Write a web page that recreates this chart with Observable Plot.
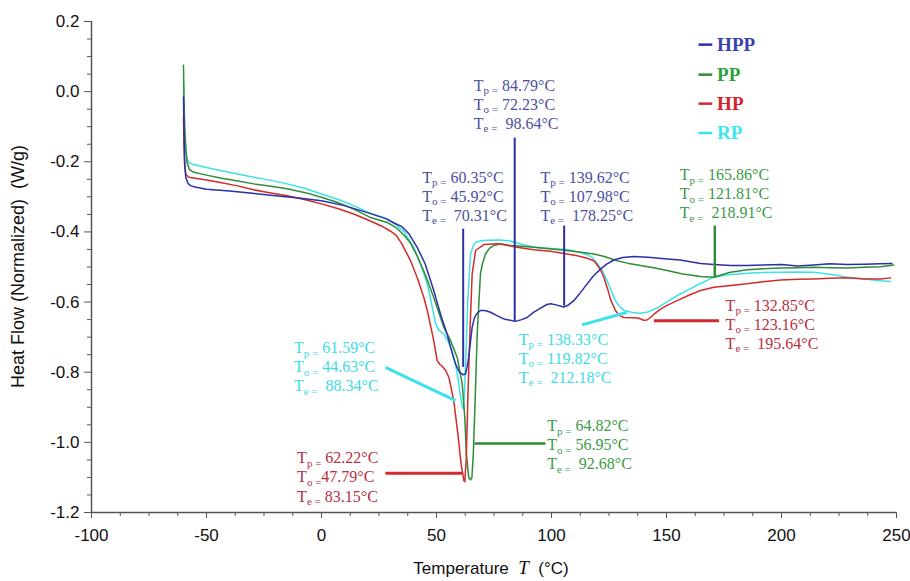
<!DOCTYPE html>
<html><head><meta charset="utf-8">
<script src="https://cdn.jsdelivr.net/npm/d3@7"></script>
<script src="https://cdn.jsdelivr.net/npm/@observablehq/plot@0.6"></script>
<style>
body{margin:0;background:#fff}
#chart svg text{white-space:pre}
</style></head><body><div id="chart"></div>
<script>
// ---- data: [temperature °C, heat flow W/g] ----
const seriesNames = ["HPP", "PP", "HP", "RP"];
const HPP = [[-60,-0.015],[-59.8,-0.10],[-59.5,-0.20],[-59,-0.245],[-58,-0.262],[-57,-0.268],[-55,-0.272],[-50,-0.278],[-40,-0.283],[-30,-0.290],[-20,-0.297],[-10,-0.303],[0,-0.311],[10,-0.325],[20,-0.345],[28,-0.362],[32,-0.376],[35,-0.385],[38,-0.405],[41.6,-0.444],[45,-0.49],[48.8,-0.567],[52,-0.64],[54.6,-0.691],[57,-0.75],[58.3,-0.777],[60,-0.80],[61.5,-0.807],[62.6,-0.805],[63.3,-0.785],[64,-0.758],[65,-0.70],[65.5,-0.672],[66.5,-0.645],[67.4,-0.634],[69.1,-0.624],[71,-0.624],[73.5,-0.629],[76,-0.638],[79.3,-0.648],[84.3,-0.655],[87,-0.65],[89.4,-0.644],[92,-0.63],[95.2,-0.617],[98,-0.607],[99.6,-0.605],[102,-0.608],[105.3,-0.614],[107,-0.610],[109.7,-0.596],[112,-0.578],[115.5,-0.548],[118,-0.527],[121.3,-0.506],[124,-0.492],[127.1,-0.480],[131,-0.473],[135.8,-0.470],[142,-0.472],[150.3,-0.477],[156,-0.480],[164.8,-0.490],[170.6,-0.493],[178,-0.496],[185,-0.496],[192,-0.494],[200,-0.493],[207,-0.497],[214,-0.494],[221,-0.491],[228.6,-0.493],[236,-0.492],[243,-0.491],[248,-0.490]];
const PP = [[-60,0.075],[-59.8,-0.02],[-59.5,-0.10],[-59,-0.16],[-58.5,-0.20],[-57.5,-0.222],[-55.5,-0.230],[-50,-0.238],[-44,-0.246],[-37,-0.254],[-29.4,-0.263],[-22,-0.270],[-14.9,-0.277],[-7,-0.288],[0,-0.301],[7,-0.316],[14,-0.335],[21,-0.358],[28.6,-0.373],[32.9,-0.390],[36,-0.41],[38.5,-0.43],[41.6,-0.468],[45,-0.52],[48.8,-0.587],[51,-0.63],[53.2,-0.672],[56.1,-0.710],[59,-0.758],[61.2,-0.834],[62.3,-0.929],[63,-1.033],[64,-1.100],[64.8,-1.107],[65.4,-1.100],[66,-1.033],[66.8,-0.881],[67.7,-0.691],[69.1,-0.520],[70,-0.49],[71.3,-0.463],[73,-0.447],[74.9,-0.439],[78,-0.434],[82.2,-0.439],[87,-0.441],[92.3,-0.444],[100,-0.449],[106.8,-0.453],[112,-0.457],[118.4,-0.463],[123,-0.47],[128.6,-0.482],[133,-0.489],[138.7,-0.496],[145,-0.503],[150.3,-0.510],[157,-0.52],[164.8,-0.527],[170.6,-0.529],[174,-0.522],[177.8,-0.515],[185.1,-0.508],[192,-0.505],[199.6,-0.503],[207,-0.502],[214,-0.501],[221,-0.502],[228.6,-0.503],[236,-0.501],[243,-0.499],[248.8,-0.494]];
const HP = [[-60,-0.07],[-59.8,-0.15],[-59.5,-0.21],[-59,-0.235],[-58,-0.243],[-57,-0.245],[-50,-0.252],[-44,-0.259],[-37,-0.268],[-29.4,-0.280],[-22,-0.289],[-14.9,-0.297],[-7,-0.308],[0,-0.320],[7,-0.333],[14,-0.349],[21,-0.368],[26,-0.383],[30,-0.398],[32.5,-0.41],[35,-0.435],[38.7,-0.482],[41.6,-0.530],[44.5,-0.587],[46,-0.624],[48.8,-0.710],[50.3,-0.767],[51.5,-0.778],[52.5,-0.783],[54,-0.795],[55.4,-0.815],[57.5,-0.881],[59.3,-0.976],[60.7,-1.062],[61.9,-1.109],[62.3,-1.112],[62.9,-1.052],[63.6,-0.881],[64.5,-0.691],[65.5,-0.520],[67,-0.453],[70.6,-0.436],[76.4,-0.434],[80,-0.437],[85,-0.444],[92.3,-0.451],[99.6,-0.455],[106.8,-0.463],[111.2,-0.468],[115.5,-0.475],[118.4,-0.482],[120,-0.495],[121.5,-0.51],[122.8,-0.53],[124.5,-0.565],[125.7,-0.593],[127.8,-0.624],[129.5,-0.638],[131.4,-0.644],[135.8,-0.645],[138,-0.646],[140.1,-0.652],[141.5,-0.651],[143,-0.644],[145,-0.632],[147.4,-0.620],[150,-0.610],[154.6,-0.596],[160,-0.58],[164.8,-0.567],[170.6,-0.558],[178,-0.553],[185.1,-0.548],[192,-0.542],[199.6,-0.537],[207,-0.535],[214,-0.534],[221,-0.532],[228.6,-0.531],[236,-0.534],[243,-0.534],[247.4,-0.531]];
const RP = [[-60,0.03],[-59.8,-0.03],[-59.5,-0.11],[-59,-0.17],[-58.3,-0.195],[-57.5,-0.203],[-55.5,-0.208],[-50,-0.216],[-44,-0.225],[-37,-0.234],[-29.4,-0.244],[-22,-0.253],[-14.9,-0.263],[-7,-0.276],[0,-0.292],[7,-0.307],[14,-0.325],[21.3,-0.347],[28.6,-0.363],[32.9,-0.382],[36,-0.40],[40.1,-0.444],[43,-0.491],[46,-0.548],[47.4,-0.59],[49.6,-0.662],[51,-0.68],[53.2,-0.691],[55,-0.712],[56.8,-0.739],[58,-0.77],[59.3,-0.815],[60.5,-0.87],[61.3,-0.90],[61.8,-0.905],[62.3,-0.84],[62.6,-0.786],[63.6,-0.596],[64.8,-0.463],[66,-0.44],[67,-0.430],[69.1,-0.425],[72,-0.424],[77.8,-0.423],[82.2,-0.426],[87,-0.435],[92.3,-0.443],[100,-0.447],[106.8,-0.450],[112,-0.458],[115.5,-0.465],[118,-0.475],[120,-0.491],[122,-0.51],[124.2,-0.539],[126,-0.568],[127.8,-0.596],[129.5,-0.612],[131.4,-0.623],[135,-0.630],[138.7,-0.632],[142,-0.628],[145.9,-0.617],[150,-0.60],[154.6,-0.582],[160,-0.563],[164.8,-0.547],[170.6,-0.529],[177,-0.522],[185.1,-0.518],[192,-0.516],[199.6,-0.515],[207,-0.514],[214,-0.515],[221,-0.521],[228.6,-0.529],[236,-0.534],[243,-0.539],[247.4,-0.541]];

const xTicks = [-100, -50, 0, 50, 100, 150, 200, 250];
const yTicks = [0.2, 0.0, -0.2, -0.4, -0.6, -0.8, -1.0, -1.2];

// annotation labels: [series, T, heat flow, lines]   ("|" marks the subscript part)
const annotations = [
  ["HPP", 66.2, -0.034, ["T|p =| 84.79°C", "T|o =| 72.23°C", "T|e =|  98.64°C"]],
  ["HPP", 43.8, -0.2965, ["T|p =| 60.35°C", "T|o =| 45.92°C", "T|e =|  70.31°C"]],
  ["HPP", 95.2, -0.2965, ["T|p =| 139.62°C", "T|o =| 107.98°C", "T|e =|  178.25°C"]],
  ["PP", 155.8, -0.290, ["T|p =| 165.86°C", "T|o =| 121.81°C", "T|e =|  218.91°C"]],
  ["RP", -12.0, -0.783, ["T|p =| 61.59°C", "T|o =| 44.63°C", "T|e =|  88.34°C"]],
  ["HP", -10.6, -1.097, ["T|p =| 62.22°C", "T|o =|47.79°C", "T|e =| 83.15°C"]],
  ["PP", 98.1, -1.005, ["T|p =| 64.82°C", "T|o =| 56.95°C", "T|e =|  92.68°C"]],
  ["RP", 85.8, -0.759, ["T|p =| 138.33°C", "T|o =| 119.82°C", "T|e =|  212.18°C"]],
  ["HP", 175.7, -0.662, ["T|p =| 132.85°C", "T|o =| 123.16°C", "T|e =|  195.64°C"]]
];
// pointer lines: [series, T1, HF1, T2, HF2]
const pointers = [
  ["HPP", 84.0, -0.131, 84.0, -0.655],
  ["HPP", 61.6, -0.391, 61.6, -0.785],
  ["HPP", 105.5, -0.382, 105.5, -0.610],
  ["PP", 171.0, -0.382, 171.0, -0.530],
  ["RP", 27.8, -0.786, 58.3, -0.881],
  ["HP", 27.8, -1.088, 61.2, -1.088],
  ["PP", 66.5, -1.003, 97.4, -1.003],
  ["RP", 113.3, -0.665, 132.9, -0.629],
  ["HP", 144.5, -0.653, 172.8, -0.653]
];

// ---- styles ----
const lineColor = {HPP: "#2c30a6", PP: "#2e8d36", HP: "#d22b2b", RP: "#3ce2ea"};
const textColor = {HPP: "#4a4fa3", PP: "#3a9a47", HP: "#b8303e", RP: "#3ddbe3"};
const legendColor = {HPP: "#3a3fb0", PP: "#2fa03c", HP: "#d8202a", RP: "#3ee6ee"};
const pointerWidth = {HPP: 2, PP: 2.5, HP: 3, RP: 3};

const seriesData = {HPP, PP, HP, RP};
const rows = [];
for (const name of ["RP", "PP", "HP", "HPP"]) for (const [t, v] of seriesData[name]) rows.push({name, t, v});

const xMinor = d3.range(-100, 250.001, 12.5).filter(d => !xTicks.includes(d));
const yMinor = d3.range(-1.2, 0.2001, 0.05).map(d => +d.toFixed(2)).filter(d => !yTicks.some(t => Math.abs(t - d) < 1e-6));

// legend layout (data-space anchors inside the frame)
const legendRows = seriesNames.map((name, i) => ({name, y: [0.134, 0.0485, -0.0342, -0.118][i]}));

const sans = "'Liberation Sans', Arial, sans-serif";
const serif = "'Liberation Serif', 'Times New Roman', serif";
const W = 910, H = 581, ML = 91, MR = 14, MT = 21, MB = 69;

const chart = Plot.plot({
  width: W, height: H,
  marginLeft: ML, marginRight: MR, marginTop: MT, marginBottom: MB,
  x: {domain: [-100, 250]},
  y: {domain: [-1.2, 0.2]},
  style: {fontFamily: sans, fontSize: "17px", color: "#111", background: "#fff"},
  marks: [
    Plot.axisX(xTicks, {tickSize: 6, tickPadding: 10, tickFormat: d => String(d), label: null, stroke: "#555", fontSize: 17}),
    Plot.axisX(xMinor, {tickSize: 4, tickFormat: () => "", label: null, stroke: "#555"}),
    Plot.axisY(yTicks, {tickSize: 7, tickPadding: 5, tickFormat: d => d.toFixed(1), label: null, stroke: "#555", fontSize: 17}),
    Plot.axisY(yMinor, {tickSize: 4, tickFormat: () => "", label: null, stroke: "#555"}),
    Plot.ruleX([-100], {stroke: "#555", strokeWidth: 1.5}),
    Plot.ruleY([-1.2], {stroke: "#555", strokeWidth: 1.5}),
    Plot.line(rows, {x: "t", y: "v", z: "name", stroke: d => lineColor[d.name], strokeWidth: 1.5, curve: "linear"}),
    Plot.link(pointers, {x1: d => d[1], y1: d => d[2], x2: d => d[3], y2: d => d[4], stroke: d => lineColor[d[0]], strokeWidth: d => pointerWidth[d[0]]}),
    Plot.text(annotations, {x: d => d[1], y: d => d[2], text: d => d[3].join("\n"), fill: d => textColor[d[0]], textAnchor: "start", lineAnchor: "middle", lineHeight: 1.19, fontSize: 16, fontFamily: serif}),
    Plot.link(legendRows, {x1: 163.9, x2: 169.9, y1: "y", y2: "y", stroke: d => lineColor[d.name], strokeWidth: 2.5}),
    Plot.text(legendRows, {x: 172.0, y: "y", text: "name", fill: d => legendColor[d.name], textAnchor: "start", fontSize: 19, fontWeight: "bold", fontFamily: serif}),
    Plot.text(["Heat Flow (Normalized)  (W/g)"], {frameAnchor: "middle", text: d => d, rotate: -90, fontSize: 18, fontFamily: sans, fill: "#111"}),
    Plot.text(["Temperature  #T#  (°C)"], {frameAnchor: "bottom", text: d => d, dy: 61, dx: -3, fontSize: 17, fontFamily: sans, fill: "#111"})
  ]
});

document.getElementById("chart").appendChild(chart);

// rich text: subscripts in annotations, italic T in x label; pin the y-axis title
const svg = d3.select(chart);
svg.selectAll("text, tspan").each(function() {
  const el = this;
  if (el.childNodes.length !== 1 || el.firstChild.nodeType !== 3) return;
  const s = el.textContent;
  if (s.includes("|")) {
    const [a, sub, rest] = s.split("|");
    el.textContent = "";
    const sel = d3.select(el);
    sel.append("tspan").text(a);
    sel.append("tspan").attr("font-size", "11px").attr("dy", 3.5).text(sub);
    sel.append("tspan").attr("dy", -3.5).text(rest);
  } else if (s.includes("#")) {
    const [a, it, rest] = s.split("#");
    el.textContent = "";
    const sel = d3.select(el);
    sel.append("tspan").text(a);
    sel.append("tspan").attr("font-style", "italic").attr("font-family", serif).attr("font-size", "19px").text(it);
    sel.append("tspan").text(rest);
  } else if (s.startsWith("Heat Flow")) {
    d3.select(el.parentNode).attr("transform", null);
    d3.select(el)
      .attr("text-anchor", "middle")
      .attr("transform", `translate(${18},${(MT + H - MB) / 2}) rotate(-90)`);
  }
});
</script></body></html>
